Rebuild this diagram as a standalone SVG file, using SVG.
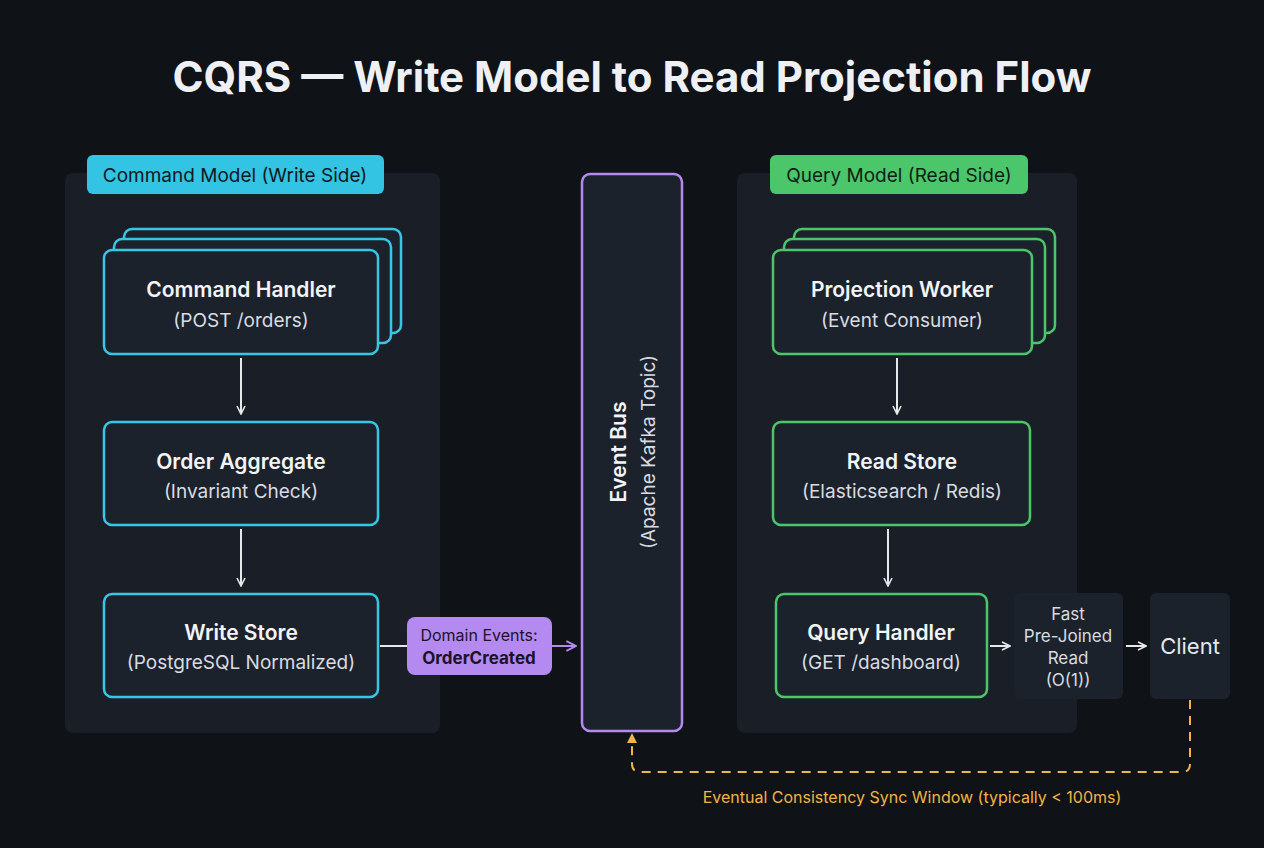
<svg xmlns="http://www.w3.org/2000/svg" width="1264" height="848" viewBox="0 0 1264 848">
<defs>
<style>
text{font-family:Inter,"Noto Sans","Liberation Sans",sans-serif;text-anchor:middle}
.t{font-size:21px;font-weight:600;fill:#f2f4f7}
.s{font-size:19px;fill:#d8dce2}
.cy{fill:#1c222b;stroke:#38c6e6;stroke-width:2.5}
.gr{fill:#1c222b;stroke:#4cc66a;stroke-width:2.5}
.panel{fill:#1a1f27}
.w{stroke:#e6e8eb;stroke-width:2;fill:none;marker-end:url(#aw)}
</style>
<marker id="aw" viewBox="0 0 10 10" refX="9" refY="5" markerWidth="10" markerHeight="10" markerUnits="userSpaceOnUse" orient="auto"><path d="M1,1 L9,5 L1,9" fill="none" stroke="#e6e8eb" stroke-width="1.6"/></marker>
<marker id="ap" viewBox="0 0 10 10" refX="9" refY="5" markerWidth="12" markerHeight="12" markerUnits="userSpaceOnUse" orient="auto"><path d="M1,1 L9,5 L1,9" fill="none" stroke="#b58af0" stroke-width="1.6"/></marker>
<marker id="ay" viewBox="0 0 10 10" refX="8" refY="5" markerWidth="10" markerHeight="10" markerUnits="userSpaceOnUse" orient="auto"><path d="M0,0 L10,5 L0,10 Z" fill="#f2b445"/></marker>
</defs>
<rect width="1264" height="848" fill="#0f1217"/>
<text x="632" y="92" style="font-size:42px;font-weight:700;fill:#eef0f3">CQRS — Write Model to Read Projection Flow</text>

<g id="command-panel">
<rect class="panel" x="65" y="173" width="375" height="560" rx="8"/>
<rect x="87" y="155" width="297" height="39" rx="6" fill="#33c3e3"/>
<text x="235" y="182" style="font-size:19px;fill:#0e1a22">Command Model (Write Side)</text>
</g>
<g id="query-panel">
<rect class="panel" x="737" y="173" width="340" height="560" rx="8"/>
<rect x="770" y="155" width="258" height="39" rx="6" fill="#4cc66a"/>
<text x="899" y="182" style="font-size:19px;fill:#0e1f14">Query Model (Read Side)</text>
</g>

<g id="command-handler">
<rect class="cy" x="124" y="229" width="277" height="104" rx="8"/>
<rect class="cy" x="114" y="239" width="277" height="104" rx="8"/>
<rect class="cy" x="104" y="250" width="274" height="104" rx="8"/>
<text class="t" x="241" y="297">Command Handler</text>
<text class="s" x="241" y="327">(POST /orders)</text>
</g>
<g id="order-aggregate">
<rect class="cy" x="104" y="422" width="274" height="103" rx="8"/>
<text class="t" x="241" y="469">Order Aggregate</text>
<text class="s" x="241" y="498">(Invariant Check)</text>
</g>
<g id="write-store">
<rect class="cy" x="104" y="594" width="274" height="103" rx="8"/>
<text class="t" x="241" y="640">Write Store</text>
<text class="s" x="241" y="669">(PostgreSQL Normalized)</text>
</g>

<g id="event-bus">
<rect x="582" y="174" width="100" height="557" rx="8" fill="#1c222b" stroke="#b58af0" stroke-width="2.5"/>
<text transform="translate(626,452) rotate(-90)" class="t">Event Bus</text>
<text transform="translate(655,452) rotate(-90)" class="s">(Apache Kafka Topic)</text>
</g>

<g id="projection-worker">
<rect class="gr" x="794" y="229" width="261" height="104" rx="8"/>
<rect class="gr" x="784" y="239" width="261" height="104" rx="8"/>
<rect class="gr" x="773" y="250" width="259" height="104" rx="8"/>
<text class="t" x="902" y="297">Projection Worker</text>
<text class="s" x="902" y="327">(Event Consumer)</text>
</g>
<g id="read-store">
<rect class="gr" x="773" y="422" width="257" height="103" rx="8"/>
<text class="t" x="902" y="469">Read Store</text>
<text class="s" x="902" y="498">(Elasticsearch / Redis)</text>
</g>
<g id="query-handler">
<rect class="gr" x="776" y="594" width="211" height="103" rx="8"/>
<text class="t" x="881" y="640">Query Handler</text>
<text class="s" x="881" y="669">(GET /dashboard)</text>
</g>
<g id="fast-read">
<rect x="1014" y="593" width="109" height="106" rx="6" fill="#1c222b"/>
<text class="s" x="1068" y="620" style="font-size:17px">Fast</text>
<text class="s" x="1068" y="642" style="font-size:17px">Pre-Joined</text>
<text class="s" x="1068" y="664" style="font-size:17px">Read</text>
<text class="s" x="1068" y="686" style="font-size:17px">(O(1))</text>
</g>
<g id="client">
<rect x="1150" y="593" width="80" height="106" rx="6" fill="#1c222b"/>
<text x="1190" y="654" style="font-size:22px;fill:#e6e8eb">Client</text>
</g>

<g id="connectors">
<line class="w" x1="241" y1="358" x2="241" y2="414"/>
<line class="w" x1="241" y1="529" x2="241" y2="586"/>
<line class="w" x1="897" y1="358" x2="897" y2="414"/>
<line class="w" x1="888" y1="529" x2="888" y2="586"/>
<line class="w" x1="990" y1="646" x2="1010" y2="646"/>
<line class="w" x1="1126" y1="646" x2="1146" y2="646"/>
<line x1="380" y1="646" x2="408" y2="646" stroke="#e6e8eb" stroke-width="2"/>
<line x1="552" y1="646" x2="576" y2="646" stroke="#b58af0" stroke-width="2" marker-end="url(#ap)"/>
<path d="M1190,700 V764 Q1190,772 1182,772 H640 Q632,772 632,764 V735" fill="none" stroke="#f2b445" stroke-width="2" stroke-dasharray="9,7" marker-end="url(#ay)"/>
<rect x="407" y="617" width="145" height="58" rx="8" fill="#b58af0"/>
<text x="479" y="641" style="font-size:16px;fill:#1b1326">Domain Events:</text>
<text x="479" y="664" style="font-size:17px;font-weight:700;fill:#1b1326">OrderCreated</text>
<text x="912" y="803" style="font-size:16px;fill:#f2b445">Eventual Consistency Sync Window (typically &lt; 100ms)</text>
</g>
</svg>
